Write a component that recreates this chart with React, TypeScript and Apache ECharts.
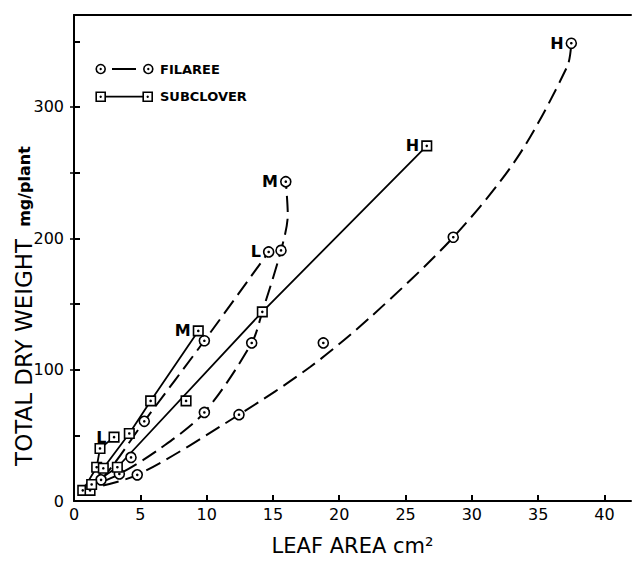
import React, { useEffect, useRef } from "react";
import * as echarts from "echarts";

// ---- data ----
const xTickValues = [0, 5, 10, 15, 20, 25, 30, 35, 40];
const yLabelValues = [0, 100, 200, 300];
const yTickValues = [0, 50, 100, 150, 200, 250, 300, 350];
const yRightTickValues = [100, 150, 200, 250, 300];

const levelLabels = ["L", "M", "H"];

// FILAREE measured points (circles)
const filareeL: number[][] = [[2.04, 16.1], [5.3, 60.7], [9.83, 122], [14.68, 189.6]];
const filareeM: number[][] = [[3.42, 20.6], [9.83, 67.4], [13.4, 120.3], [15.61, 190.8], [15.97, 243.1]];
const filareeH: number[][] = [[4.77, 19.9], [12.44, 65.7], [18.8, 120.3], [28.6, 200.8], [37.5, 348.5]];
const filareeExtra: number[][] = [[4.3, 33.2]];

// FILAREE fitted (dashed) curves
const filareeLCurve: number[][] = [[0.5, 8], [2.04, 16.1], [5.3, 60.7], [9.83, 122], [14.68, 189.6]];
const filareeMCurve: number[][] = [
  [0.5, 8], [3.42, 20.6], [6.5, 40], [9.83, 67.4], [13.4, 120.3], [14.2, 144],
  [15.61, 190.8], [16.12, 218], [15.97, 243.1],
];
const filareeHCurve: number[][] = [
  [0.5, 8], [4.77, 19.9], [12.44, 65.7], [17.8, 102], [22.3, 139.5],
  [28.6, 200.8], [33.4, 261], [37.2, 331], [37.5, 348.5],
];

// SUBCLOVER measured points (squares, joined by solid lines)
const subcloverL: number[][] = [[0.66, 8.1], [1.71, 25.7], [1.96, 40], [3.02, 48.6]];
const subcloverM: number[][] = [[1.21, 8.1], [2.21, 24.9], [4.17, 51.4], [5.78, 76.2], [9.37, 129.5]];
const subcloverH: number[][] = [[1.33, 12.6], [3.27, 25.7], [14.2, 144], [26.6, 270.4]];
const subcloverExtra: number[][] = [[8.45, 76.2]];
const subcloverCurveStart: number[] = [0.4, 6];

const FONT = "DejaVu Sans";

function markerData(groups: number[][][], extra: number[][]) {
  const out: any[] = [];
  groups.forEach((g, gi) => {
    g.forEach((p, i) => {
      const isEnd = i === g.length - 1;
      out.push(
        isEnd
          ? { value: p, label: { show: true, formatter: levelLabels[gi] } }
          : { value: p }
      );
    });
  });
  extra.forEach((p) => out.push({ value: p }));
  return out;
}

export default function App() {
  const ref = useRef<HTMLDivElement>(null);

  useEffect(() => {
    if (!ref.current) return;
    const chart = echarts.init(ref.current, null, { renderer: "svg" });

    const filGroups = [filareeL, filareeM, filareeH];
    const filCurves = [filareeLCurve, filareeMCurve, filareeHCurve];
    const subGroups = [subcloverL, subcloverM, subcloverH];

    const lineSeries: any[] = [];
    filCurves.forEach((g, i) => {
      lineSeries.push({
        type: "line",
        name: "filaree-" + levelLabels[i],
        data: g,
        smooth: 0.3,
        showSymbol: false,
        symbol: "none",
        lineStyle: { color: "#000", width: 2, type: [16, 7] },
        z: 2,
      });
    });
    subGroups.forEach((g, i) => {
      lineSeries.push({
        type: "line",
        name: "subclover-" + levelLabels[i],
        data: [subcloverCurveStart, ...g],
        smooth: false,
        showSymbol: false,
        symbol: "none",
        lineStyle: { color: "#000", width: 1.8, type: "solid" },
        z: 2,
      });
    });

    const labelStyle = {
      position: "left",
      distance: 2,
      color: "#000",
      fontFamily: FONT,
      fontWeight: "bold",
      fontSize: 16,
    };

    const filMarkers = markerData(filGroups, filareeExtra);
    const subMarkers = markerData(subGroups, subcloverExtra);

    const allPts = [
      ...filGroups.flat(),
      ...filareeExtra,
      ...subGroups.flat(),
      ...subcloverExtra,
    ];

    const option: any = {
      animation: false,
      backgroundColor: "#fff",
      grid: { left: 74, right: 1, top: 15, bottom: 53.5, containLabel: false },
      xAxis: [
        {
          type: "value",
          min: 0,
          max: 42,
          interval: 5,
          axisLine: { show: true, onZero: false, lineStyle: { color: "#000", width: 2 } },
          axisTick: {
            show: true,
            inside: true,
            length: 6,
            customValues: xTickValues,
            lineStyle: { color: "#000", width: 2 },
          },
          axisLabel: {
            color: "#000",
            fontFamily: FONT,
            fontSize: 16,
            margin: 5,
            customValues: xTickValues,
          },
          splitLine: { show: false },
          name: "LEAF AREA cm²",
          nameLocation: "middle",
          nameGap: 34,
          nameTextStyle: { color: "#000", fontFamily: FONT, fontSize: 21 },
        },
        {
          type: "value",
          position: "top",
          min: 0,
          max: 42,
          axisLine: { show: true, onZero: false, lineStyle: { color: "#000", width: 2 } },
          axisTick: { show: false },
          axisLabel: { show: false },
          splitLine: { show: false },
        },
      ],
      yAxis: [
        {
          type: "value",
          min: 0,
          max: 370,
          interval: 50,
          axisLine: { show: true, onZero: false, lineStyle: { color: "#000", width: 2 } },
          axisTick: {
            show: true,
            inside: true,
            length: 6,
            customValues: yTickValues,
            lineStyle: { color: "#000", width: 2 },
          },
          axisLabel: {
            color: "#000",
            fontFamily: FONT,
            fontSize: 16,
            margin: 10,
            customValues: yLabelValues,
          },
          splitLine: { show: false },
        },
        {
          type: "value",
          position: "right",
          min: 0,
          max: 370,
          interval: 50,
          axisLine: { show: false },
          axisTick: {
            show: true,
            inside: true,
            length: 4,
            customValues: yRightTickValues,
            lineStyle: { color: "#000", width: 1.5 },
          },
          axisLabel: { show: false },
          splitLine: { show: false },
        },
      ],
      series: [
        ...lineSeries,
        {
          type: "scatter",
          name: "filaree-points",
          data: filMarkers,
          symbol: "circle",
          symbolSize: 10,
          itemStyle: { color: "#fff", borderColor: "#000", borderWidth: 1.6, opacity: 1 },
          label: labelStyle,
          z: 3,
        },
        {
          type: "scatter",
          name: "subclover-points",
          data: subMarkers,
          symbol: "rect",
          symbolSize: 9.5,
          itemStyle: { color: "#fff", borderColor: "#000", borderWidth: 1.6, opacity: 1 },
          label: labelStyle,
          z: 3,
        },
        {
          type: "scatter",
          name: "centre-dots",
          data: allPts,
          symbol: "circle",
          symbolSize: 2.6,
          itemStyle: { color: "#000", opacity: 1 },
          silent: true,
          z: 4,
        },
      ],
      graphic: [
        // y-axis title
        {
          type: "text",
          x: 24,
          y: 306,
          rotation: Math.PI / 2,
          style: {
            text: "{a|TOTAL DRY WEIGHT}{g| }{b|mg/plant}",
            align: "center",
            verticalAlign: "middle",
            fill: "#000",
            rich: {
              a: { fontFamily: FONT, fontSize: 23, fill: "#000" },
              g: { fontFamily: FONT, fontSize: 21, width: 12 },
              b: { fontFamily: FONT, fontSize: 16, fontWeight: "bold", fill: "#000" },
            },
          },
        },
        // legend: filaree
        { type: "circle", shape: { cx: 100.7, cy: 69, r: 4.5 }, style: { fill: "#fff", stroke: "#000", lineWidth: 1.6 } },
        { type: "circle", shape: { cx: 100.7, cy: 69, r: 1.2 }, style: { fill: "#000" } },
        { type: "line", shape: { x1: 112, y1: 69, x2: 136, y2: 69 }, style: { stroke: "#000", lineWidth: 2 } },
        { type: "circle", shape: { cx: 148.3, cy: 69, r: 4.5 }, style: { fill: "#fff", stroke: "#000", lineWidth: 1.6 } },
        { type: "circle", shape: { cx: 148.3, cy: 69, r: 1.2 }, style: { fill: "#000" } },
        {
          type: "text",
          x: 160,
          y: 69,
          style: { text: "FILAREE", fontFamily: FONT, fontWeight: "bold", fontSize: 13, fill: "#000", verticalAlign: "middle", align: "left" },
        },
        // legend: subclover
        { type: "line", shape: { x1: 104, y1: 96.7, x2: 144, y2: 96.7 }, style: { stroke: "#000", lineWidth: 1.8 } },
        { type: "rect", shape: { x: 96.2, y: 92.2, width: 9, height: 9 }, style: { fill: "#fff", stroke: "#000", lineWidth: 1.6 } },
        { type: "circle", shape: { cx: 100.7, cy: 96.7, r: 1.2 }, style: { fill: "#000" } },
        { type: "rect", shape: { x: 143.2, y: 92.2, width: 9, height: 9 }, style: { fill: "#fff", stroke: "#000", lineWidth: 1.6 } },
        { type: "circle", shape: { cx: 147.7, cy: 96.7, r: 1.2 }, style: { fill: "#000" } },
        {
          type: "text",
          x: 160,
          y: 96.7,
          style: { text: "SUBCLOVER", fontFamily: FONT, fontWeight: "bold", fontSize: 13, fill: "#000", verticalAlign: "middle", align: "left" },
        },
      ],
    };

    chart.setOption(option);
    return () => {
      chart.dispose();
    };
  }, []);

  return (
    <div
      ref={ref}
      style={{ position: "absolute", left: 0, top: 0, width: 632, height: 561, background: "#fff" }}
    />
  );
}
